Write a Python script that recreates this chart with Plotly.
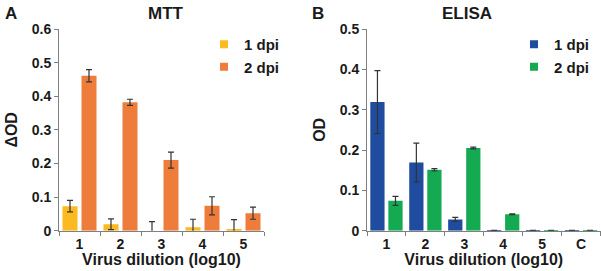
import plotly.graph_objects as go

W, H = 601, 271

mtt_cats = ["1", "2", "3", "4", "5"]
mtt_1dpi = [0.073, 0.019, 0.0, 0.010, 0.005]
mtt_1dpi_err = [0.017, 0.016, 0.027, 0.024, 0.028]
mtt_2dpi = [0.461, 0.382, 0.210, 0.074, 0.052]
mtt_2dpi_err = [0.018, 0.009, 0.024, 0.027, 0.018]

elisa_cats = ["1", "2", "3", "4", "5", "C"]
elisa_1dpi = [0.319, 0.169, 0.028, 0.001, 0.001, 0.001]
elisa_1dpi_err = [0.078, 0.048, 0.005, 0.0, 0.0, 0.0]
elisa_2dpi = [0.074, 0.151, 0.205, 0.041, 0.001, 0.001]
elisa_2dpi_err = [0.011, 0.003, 0.002, 0.001, 0.0, 0.0]

mtt_ticks = [0, 0.1, 0.2, 0.3, 0.4, 0.5, 0.6]
mtt_ticktext = ["0", "0.1", "0.2", "0.3", "0.4", "0.5", "0.6"]
elisa_ticks = [0, 0.1, 0.2, 0.3, 0.4, 0.5]
elisa_ticktext = ["0", "0.1", "0.2", "0.3", "0.4", "0.5"]

C_YEL = "#FBBA22"
C_ORA = "#EE7D3B"
C_BLU = "#1F4C9F"
C_GRN = "#14AA52"
AX = "#7f7f7f"
FONT = "Liberation Sans, Arial, sans-serif"
TXT = "#1a1a1a"

def eb(arr):
    return dict(type="data", array=arr, visible=True, color="#333333", thickness=1.2, width=3)

fig = go.Figure()
fig.add_trace(go.Bar(x=mtt_cats, y=mtt_1dpi, error_y=eb(mtt_1dpi_err), marker_color=C_YEL,
                     marker_line_width=0, xaxis="x", yaxis="y", showlegend=False, offsetgroup="a1"))
fig.add_trace(go.Bar(x=mtt_cats, y=mtt_2dpi, error_y=eb(mtt_2dpi_err), marker_color=C_ORA,
                     marker_line_width=0, xaxis="x", yaxis="y", showlegend=False, offsetgroup="a2"))
fig.add_trace(go.Bar(x=elisa_cats, y=elisa_1dpi, error_y=eb(elisa_1dpi_err), marker_color=C_BLU,
                     marker_line_width=0, xaxis="x2", yaxis="y2", showlegend=False, offsetgroup="b1"))
fig.add_trace(go.Bar(x=elisa_cats, y=elisa_2dpi, error_y=eb(elisa_2dpi_err), marker_color=C_GRN,
                     marker_line_width=0, xaxis="x2", yaxis="y2", showlegend=False, offsetgroup="b2"))

# legend entries
for name, col, leg, xa, ya in [("1 dpi", C_YEL, "legend", "x", "y"), ("2 dpi", C_ORA, "legend", "x", "y"),
                               ("1 dpi", C_BLU, "legend2", "x2", "y2"), ("2 dpi", C_GRN, "legend2", "x2", "y2")]:
    fig.add_trace(go.Scatter(x=[None], y=[None], mode="markers", name=name,
                             marker=dict(symbol="square", size=8, color=col),
                             xaxis=xa, yaxis=ya, legend=leg, showlegend=True))

ydom = [(H - 230.7) / H, (H - 29) / H]
tickfont = dict(family=FONT, size=14, color=TXT, weight="bold")
titlefont = dict(family=FONT, size=16, color=TXT, weight="bold")
legfont = dict(family=FONT, size=15, color=TXT, weight="bold")

common_x = dict(type="category", showline=True, linecolor=AX, linewidth=1, ticks="outside",
                ticklen=4, tickcolor=AX, tickson="boundaries", tickfont=tickfont,
                showgrid=False, zeroline=False)
common_y = dict(showline=True, linecolor=AX, linewidth=1, ticks="outside", ticklen=4,
                tickcolor=AX, tickfont=tickfont, showgrid=False, zeroline=False)

fig.update_layout(
    width=W, height=H,
    margin=dict(l=0, r=0, t=0, b=0, autoexpand=False),
    paper_bgcolor="white", plot_bgcolor="white",
    barmode="group", bargap=0.073, bargroupgap=0.21,
    font=dict(family=FONT),
    xaxis=dict(domain=[59 / W, 264 / W], anchor="y",
               title=dict(text="Virus dilution (log10)", font=titlefont, standoff=0), **common_x),
    yaxis=dict(domain=ydom, anchor="x", range=[0, 0.6], tickvals=mtt_ticks, ticktext=mtt_ticktext,
               title=dict(text="ΔOD", font=titlefont, standoff=10), **common_y),
    xaxis2=dict(domain=[367 / W, 600.5 / W], anchor="y2",
                title=dict(text="Virus dilution (log10)", font=titlefont, standoff=0), **common_x),
    yaxis2=dict(domain=ydom, anchor="x2", range=[0, 0.5], tickvals=elisa_ticks, ticktext=elisa_ticktext,
                title=dict(text="OD", font=titlefont, standoff=10), **common_y),
    legend=dict(x=204 / W, y=(H - 28) / H, xanchor="left", yanchor="top", bgcolor="rgba(0,0,0,0)",
                font=legfont, itemwidth=30, tracegroupgap=0),
    legend2=dict(x=514 / W, y=(H - 28) / H, xanchor="left", yanchor="top", bgcolor="rgba(0,0,0,0)",
                 font=legfont, itemwidth=30, tracegroupgap=0),
    annotations=[
        dict(text="A", x=3 / W, y=(H - 13) / H, xref="paper", yref="paper", xanchor="left", yanchor="middle",
             showarrow=False, font=dict(family=FONT, size=17, color=TXT, weight="bold")),
        dict(text="B", x=310 / W, y=(H - 13) / H, xref="paper", yref="paper", xanchor="left", yanchor="middle",
             showarrow=False, font=dict(family=FONT, size=17, color=TXT, weight="bold")),
        dict(text="MTT", x=166 / W, y=(H - 13) / H, xref="paper", yref="paper", xanchor="center", yanchor="middle",
             showarrow=False, font=dict(family=FONT, size=17, color=TXT, weight="bold")),
        dict(text="ELISA", x=467 / W, y=(H - 13) / H, xref="paper", yref="paper", xanchor="center", yanchor="middle",
             showarrow=False, font=dict(family=FONT, size=17, color=TXT, weight="bold")),
    ],
)

fig.write_html("out.html", config={"displayModeBar": False},
               post_script="document.body.style.margin='0';document.body.style.overflow='hidden';")
